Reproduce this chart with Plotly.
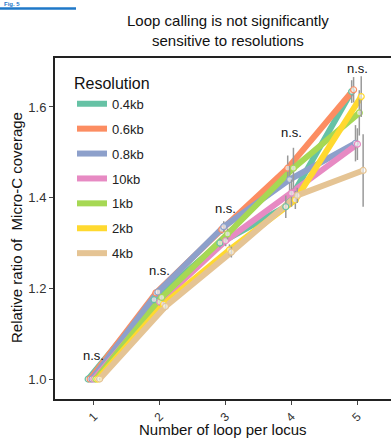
import plotly.graph_objects as go

loops = [1, 2, 3, 4, 5]
tick_labels = ["1", "2", "3", "4", "5"]
resolutions = ["0.4kb", "0.6kb", "0.8kb", "10kb", "1kb", "2kb", "4kb"]
colors = ["#66c2a5", "#fc8d62", "#8da0cb", "#e78ac3", "#a6d854", "#ffd92f", "#e5c494"]

ratio_04kb = [1.0, 1.175, 1.300, 1.380, 1.634]
ratio_06kb = [1.0, 1.190, 1.330, 1.465, 1.638]
ratio_08kb = [1.0, 1.192, 1.336, 1.440, 1.520]
ratio_10kb = [1.0, 1.170, 1.305, 1.410, 1.518]
ratio_1kb = [1.0, 1.180, 1.320, 1.465, 1.587]
ratio_2kb = [1.0, 1.165, 1.285, 1.395, 1.623]
ratio_4kb = [1.0, 1.160, 1.280, 1.405, 1.460]

err_04kb = [0.003, 0.008, 0.010, 0.025, 0.025]
err_06kb = [0.003, 0.008, 0.010, 0.028, 0.028]
err_08kb = [0.003, 0.008, 0.012, 0.030, 0.040]
err_10kb = [0.003, 0.008, 0.012, 0.030, 0.035]
err_1kb = [0.003, 0.008, 0.012, 0.045, 0.050]
err_2kb = [0.003, 0.008, 0.012, 0.020, 0.045]
err_4kb = [0.003, 0.008, 0.012, 0.017, 0.080]

ns_labels = ["n.s.", "n.s.", "n.s.", "n.s.", "n.s."]
ns_levels = [1.053, 1.240, 1.376, 1.543, 1.684]

series = [ratio_04kb, ratio_06kb, ratio_08kb, ratio_10kb, ratio_1kb, ratio_2kb, ratio_4kb]
errors = [err_04kb, err_06kb, err_08kb, err_10kb, err_1kb, err_2kb, err_4kb]

FONT = "Arial, Liberation Sans, sans-serif"
W, H = 391, 439
ML, MR, MT, MB = 55, 0, 58, 40
PW, PH = W - ML - MR, H - MT - MB
dodge = 0.029

fig = go.Figure()
for i, (name, vals, col) in enumerate(zip(resolutions, series, colors)):
    xs = [x + (i - 3) * dodge for x in loops]
    fig.add_trace(go.Scatter(
        x=xs, y=vals, mode="lines", name=name,
        line=dict(color=col, width=6),
        legendgroup=name,
    ))
for i, (name, vals, errs, col) in enumerate(zip(resolutions, series, errors, colors)):
    xs = [x + (i - 3) * dodge for x in loops]
    fig.add_trace(go.Scatter(
        x=xs, y=vals, mode="markers", showlegend=False,
        marker=dict(symbol="circle", size=6, color="rgba(255,255,255,0.6)",
                    line=dict(color=col, width=1.2)),
        error_y=dict(type="data", array=errs, color="#999999", thickness=1.5, width=0),
    ))

for x, lab, lev in zip(loops, ns_labels, ns_levels):
    fig.add_annotation(x=x, y=lev, text=lab, showarrow=False,
                       font=dict(family=FONT, size=13, color="#111"))

def px_x(p):
    return (p - ML) / PW

def px_y(p):
    return 1 - (p - MT) / PH

# figure label at the very top-left
fig.add_annotation(xref="paper", yref="paper", x=px_x(3), y=px_y(0.5),
                   xanchor="left", yanchor="top", text="<b>Fig. 5</b>", borderpad=0,
                   showarrow=False, font=dict(family=FONT, size=6, color="#1f78c8"))
fig.add_shape(type="line", xref="paper", yref="paper",
              x0=px_x(0), x1=px_x(76), y0=px_y(8.5), y1=px_y(8.5),
              line=dict(color="#1f78c8", width=2.5))

# title
fig.add_annotation(xref="paper", yref="paper", x=px_x(228), y=px_y(30),
                   xanchor="center", yanchor="middle",
                   text="Loop calling is not significantly<br>sensitive to resolutions",
                   showarrow=False, font=dict(family=FONT, size=15, color="#111"))
# axis titles
fig.add_annotation(xref="paper", yref="paper", x=px_x(223), y=px_y(429),
                   xanchor="center", yanchor="middle", text="Number of loop per locus",
                   showarrow=False, font=dict(family=FONT, size=15, color="#111"))
fig.add_annotation(xref="paper", yref="paper", x=px_x(16), y=px_y(228),
                   xanchor="center", yanchor="middle", textangle=-90,
                   text="Relative ratio of  Micro-C coverage",
                   showarrow=False, font=dict(family=FONT, size=15, color="#111"))

fig.update_layout(
    width=W, height=H,
    margin=dict(l=ML, r=MR, t=MT, b=MB, autoexpand=False),
    paper_bgcolor="white", plot_bgcolor="white",
    font=dict(family=FONT, color="#222"),
    legend=dict(x=px_x(72), y=px_y(68), xanchor="left", yanchor="top",
                bgcolor="rgba(0,0,0,0)", tracegroupgap=5,
                title=dict(text="Resolution", font=dict(family=FONT, size=16, color="#111")),
                font=dict(family=FONT, size=13, color="#222")),
    showlegend=True,
)
fig.update_xaxes(range=[0.41, 5.51], tickvals=loops, ticktext=tick_labels, tickangle=-45,
                 showline=True, linecolor="#222", linewidth=2, mirror=True, automargin=False,
                 ticks="outside", ticklen=4, tickcolor="#444", showgrid=False, zeroline=False,
                 tickfont=dict(family=FONT, size=12, color="#333"))
fig.update_yaxes(range=[0.956, 1.708], tickvals=[1.0, 1.2, 1.4, 1.6],
                 ticktext=["1.0", "1.2", "1.4", "1.6"], automargin=False,
                 showline=True, linecolor="#222", linewidth=2,
                 ticks="outside", ticklen=4, tickcolor="#444", showgrid=False, zeroline=False,
                 tickfont=dict(family=FONT, size=13, color="#333"))

fig.write_html("out.html", config={"displayModeBar": False},
               post_script="document.body.style.margin='0';document.body.style.overflow='hidden';")
